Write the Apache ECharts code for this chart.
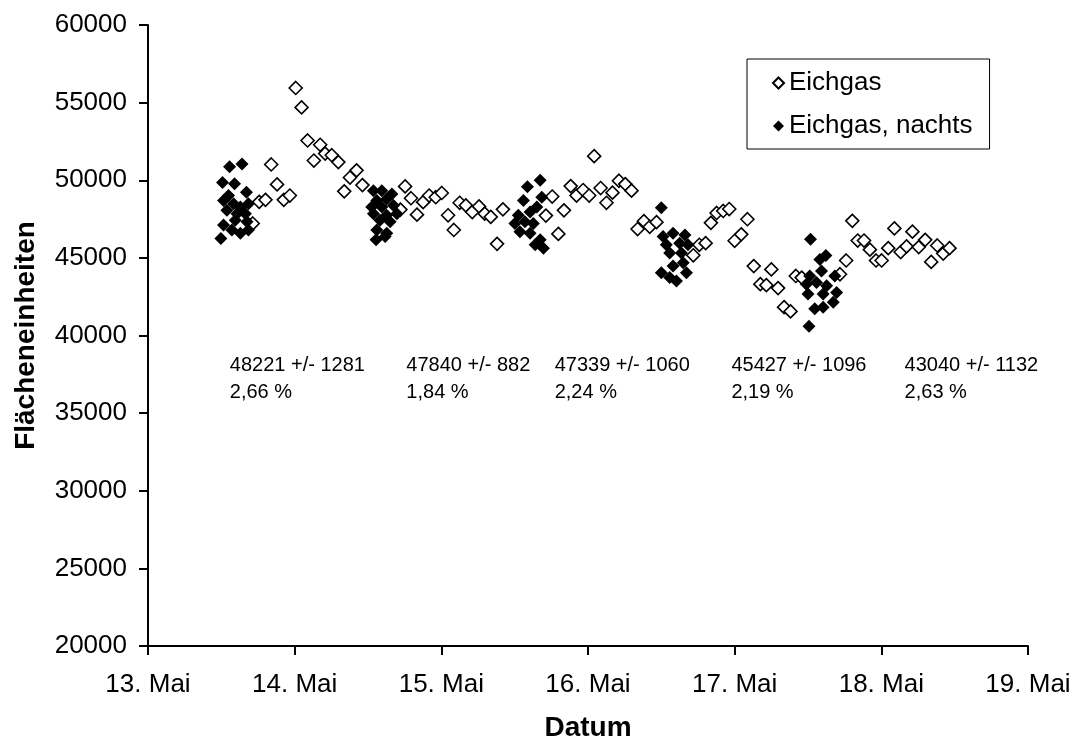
<!DOCTYPE html>
<html>
<head>
<meta charset="utf-8">
<script src="https://cdn.jsdelivr.net/npm/echarts@6/dist/echarts.min.js"></script>
<style>
html,body{margin:0;padding:0;background:#fff;}
#chart{width:1075px;height:747px;}
</style>
</head>
<body>
<div id="chart"></div>
<script>
// x values are days of May (13 = 13. Mai 00:00)
const xTicks = [13, 14, 15, 16, 17, 18, 19];
const seriesNames = ['Eichgas', 'Eichgas, nachts'];

const eichgas = [
[13.714,47214],[13.758,48610],[13.801,48737],[13.840,51018],[13.880,49731],[13.926,48737],[13.967,49014],
[14.007,55943],[14.047,54694],[14.088,52564],[14.131,51271],[14.174,52285],[14.208,51715],[14.253,51613],[14.298,51170],[14.338,49287],[14.377,50174],[14.422,50637],[14.462,49686],[14.721,48110],[14.753,49604],[14.793,48843],[14.834,47785],[14.876,48590],[14.917,49014],[14.962,48907],
[15.003,49180],[15.046,47745],[15.085,46797],[15.125,48548],[15.167,48380],[15.211,47955],[15.257,48317],[15.296,47849],[15.337,47638],[15.380,45906],[15.420,48127],[15.713,47722],[15.756,48950],[15.798,46544],[15.836,48062],[15.882,49623],[15.922,49014],[15.967,49370],
[16.008,49014],[16.042,51550],[16.086,49497],[16.126,48548],[16.167,49202],[16.211,49968],[16.254,49751],[16.297,49330],[16.338,46858],[16.381,47365],[16.421,47004],[16.467,47302],[16.718,45166],[16.759,45845],[16.802,45948],[16.838,47258],[16.877,47892],[16.922,48020],[16.963,48146],
[17.000,46100],[17.045,46517],[17.087,47490],[17.130,44469],[17.175,43307],[17.216,43243],[17.250,44258],[17.296,43053],[17.337,41826],[17.381,41553],[17.417,43835],[17.457,43728],[17.718,43945],[17.760,44832],[17.802,47385],[17.839,46117],[17.882,46117],[17.922,45528],[17.964,44832],
[18.002,44832],[18.047,45628],[18.089,46897],[18.132,45376],[18.172,45737],[18.212,46688],[18.255,45693],[18.299,46162],[18.340,44742],[18.381,45800],[18.422,45274],[18.465,45628]
];

const eichgasNachts = [
[13.556,50872],[13.641,51043],[13.508,49857],[13.590,49775],[13.671,49224],[13.515,48700],[13.549,49014],[13.584,48483],[13.630,48273],[13.685,48483],[13.538,48062],[13.607,47849],[13.664,47849],[13.595,47430],[13.675,47321],[13.515,47112],[13.572,46797],[13.630,46586],[13.685,46797],[13.497,46244],
[14.537,49330],[14.594,49330],[14.663,49118],[14.560,48700],[14.628,48800],[14.525,48273],[14.594,48273],[14.674,48380],[14.537,47849],[14.627,47745],[14.697,47849],[14.582,47430],[14.651,47321],[14.560,46797],[14.628,46586],[14.555,46162],[14.617,46370],
[15.587,49580],[15.674,50003],[15.560,48700],[15.685,48907],[15.525,47745],[15.605,47955],[15.651,48273],[15.502,47214],[15.570,47321],[15.627,47214],[15.536,46690],[15.605,46586],[15.674,46162],[15.696,45628],[15.640,45845],
[16.500,48228],[16.512,46370],[16.580,46586],[16.661,46480],[16.534,45845],[16.625,45948],[16.682,45845],[16.557,45312],[16.637,45312],[16.649,44681],[16.580,44469],[16.500,44044],[16.557,43732],[16.603,43518],[16.671,44044],
[17.517,46200],[17.622,45148],[17.581,44895],[17.592,44152],[17.512,43835],[17.683,43835],[17.489,43307],[17.558,43413],[17.627,43201],[17.695,42777],[17.500,42677],[17.603,42677],[17.672,42144],[17.546,41724],[17.603,41826],[17.507,40602]
];

// annotation texts (mean +/- sd, relative sd) and their anchor (top-left) in data coords
const annX = [13.561, 14.765, 15.776, 16.981, 18.162];
const annY = [38900, 38900, 38900, 38900, 38900];
const annMean = ['48221', '47840', '47339', '45427', '43040'];
const annSd = ['1281', '882', '1060', '1096', '1132'];
const annPct = ['2,66 %', '1,84 %', '2,24 %', '2,19 %', '2,63 %'];

const FONT = 'Arial, "Liberation Sans", sans-serif';
const annData = annX.map((x, i) => ({
  value: [x, annY[i]],
  text: annMean[i] + ' +/- ' + annSd[i] + '\n' + annPct[i]
}));

const chart = echarts.init(document.getElementById('chart'), null, {renderer: 'canvas'});
chart.setOption({
  animation: false,
  backgroundColor: '#ffffff',
  textStyle: {fontFamily: FONT, color: '#000'},
  grid: {left: 148, right: 47, top: 25, bottom: 95, containLabel: false},
  legend: {
    data: seriesNames,
    orient: 'vertical',
    left: 747, top: 59,
    padding: [11, 17, 10, 25],
    itemGap: 17,
    itemWidth: 11, itemHeight: 11,
    borderColor: '#000', borderWidth: 1,
    backgroundColor: '#fff',
    textStyle: {fontFamily: FONT, fontSize: 26, color: '#000'}
  },
  xAxis: {
    type: 'value', min: 13, max: 19, interval: 1,
    name: 'Datum', nameLocation: 'middle', nameGap: 68,
    nameTextStyle: {fontFamily: FONT, fontSize: 28, fontWeight: 'bold', color: '#000'},
    axisLine: {show: true, onZero: false, lineStyle: {color: '#000', width: 2}},
    axisTick: {show: true, inside: false, length: 9, lineStyle: {color: '#000', width: 2}},
    axisLabel: {margin: 26, fontFamily: FONT, fontSize: 26, color: '#000',
      formatter: v => v + '. Mai'},
    splitLine: {show: false}
  },
  yAxis: {
    type: 'value', min: 20000, max: 60000, interval: 5000,
    name: 'Flächeneinheiten', nameLocation: 'middle', nameGap: 108, nameRotate: 90,
    nameTextStyle: {fontFamily: FONT, fontSize: 28, fontWeight: 'bold', color: '#000'},
    axisLine: {show: true, lineStyle: {color: '#000', width: 2}},
    axisTick: {show: true, inside: false, length: 9, lineStyle: {color: '#000', width: 2}},
    axisLabel: {margin: 21, fontFamily: FONT, fontSize: 26, color: '#000',
      formatter: v => String(v)},
    splitLine: {show: false}
  },
  series: [
    {
      name: seriesNames[0], type: 'scatter', symbol: 'diamond', symbolSize: 13,
      itemStyle: {color: '#fff', borderColor: '#000', borderWidth: 1.6, opacity: 1},
      emphasis: {disabled: true},
      data: eichgas, z: 2
    },
    {
      name: seriesNames[1], type: 'scatter', symbol: 'diamond', symbolSize: 13,
      itemStyle: {color: '#000', borderColor: '#000', borderWidth: 0, opacity: 1},
      emphasis: {disabled: true},
      data: eichgasNachts, z: 3
    },
    {
      name: 'annotations', type: 'scatter', symbolSize: 1, silent: true,
      itemStyle: {color: '#fff', opacity: 1},
      label: {
        show: true, position: [0, 0], align: 'left', verticalAlign: 'top',
        fontFamily: FONT, fontSize: 20, lineHeight: 27, color: '#000', opacity: 1,
        formatter: p => p.data.text
      },
      data: annData, z: 4
    }
  ]
});
</script>
</body>
</html>
